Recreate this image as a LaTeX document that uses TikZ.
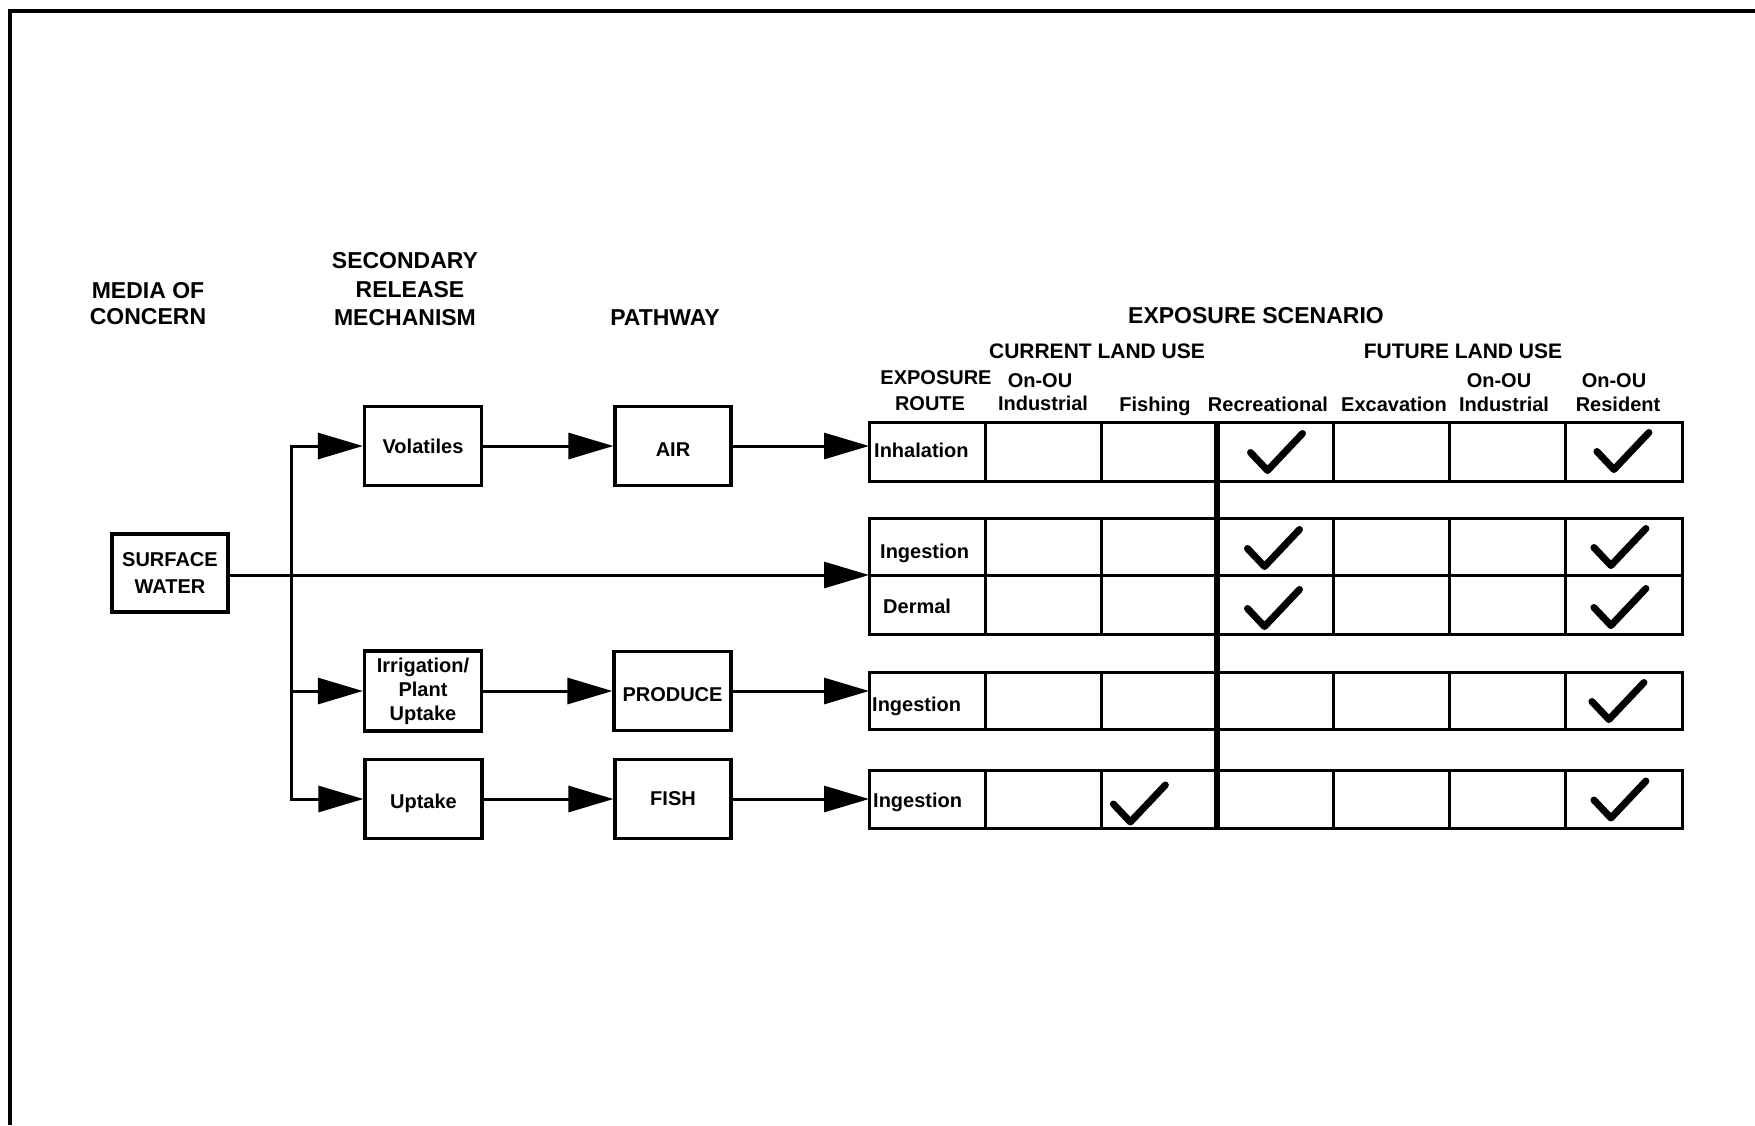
\documentclass[tikz,border=0pt]{standalone}
\usepackage{fontspec}
\setmainfont{Liberation Sans}
\usetikzlibrary{arrows.meta}
\newcommand{\lowertext}[2]{\raisebox{-#1}[\height][\depth]{#2}}
\tikzset{
  box/.style={draw, line width=3.2pt, minimum width=117pt, minimum height=79pt, inner sep=0pt, align=center, font=\fontsize{20}{24}\selectfont\bfseries},
  cell/.style={draw, line width=3pt, minimum width=116.14pt, inner sep=0pt, outer sep=0pt},
  hd/.style={inner sep=0pt, anchor=base, font=\fontsize{23}{26}\selectfont\bfseries},
  subhd/.style={inner sep=0pt, anchor=base, font=\fontsize{21}{24}\selectfont\bfseries},
  colh/.style={inner sep=0pt, anchor=base, font=\fontsize{20}{24}\selectfont\bfseries},
  rt/.style={inner sep=0pt, anchor=base west, font=\fontsize{20}{24}\selectfont\bfseries},
  ln/.style={line width=3pt},
  arr/.style={line width=3pt, -{Triangle[length=45pt,width=26pt]}},
  chk/.pic={\draw[line width=7pt, line cap=round, line join=round] (-25,1) -- (-8,19) -- (27,-18);}
}
\begin{document}
\begin{tikzpicture}[x=1pt,y=-1pt]
\useasboundingbox (0,0) rectangle (1755,1125);
% frame
\draw[line width=3.5pt] (10,1125) -- (10,11) -- (1755,11);

% column headers
\node[hd] (hmed1) at (148,298) {MEDIA OF};
\node[hd] (hmed2) at (148,324) {CONCERN};
\node[hd] (hsec1) at (405,268) {SECONDARY};
\node[hd] (hsec2) at (410,297) {RELEASE};
\node[hd] (hsec3) at (405,325) {MECHANISM};
\node[hd] (hpath) at (665,325) {PATHWAY};
\node[hd] (hexp) at (1256,323) {EXPOSURE SCENARIO};
\node[subhd] (hcur) at (1097,358) {CURRENT LAND USE};
\node[subhd] (hfut) at (1463,358) {FUTURE LAND USE};
\node[colh] (hr1) at (936,384) {EXPOSURE};
\node[colh] (hr2) at (930,410) {ROUTE};
\node[colh] (hci1) at (1040,387) {On-OU};
\node[colh] (hci2) at (1043,410) {Industrial};
\node[colh] (hfi) at (1155,411) {Fishing};
\node[colh] (hre) at (1268,411) {Recreational};
\node[colh] (hex) at (1394,411) {Excavation};
\node[colh] (hfi1) at (1499,387) {On-OU};
\node[colh] (hfi2) at (1504,411) {Industrial};
\node[colh] (hrs1) at (1614,387) {On-OU};
\node[colh] (hrs2) at (1618,411) {Resident};

% boxes
\node[box, minimum width=116pt, minimum height=78pt, font=\fontsize{20}{27}\selectfont\bfseries] (sw) at (170,573) {SURFACE\\WATER};
\node[box] (vol) at (423,446) {Volatiles};
\node[box, minimum width=116pt] (air) at (673,446) {\lowertext{4pt}{AIR}};
\node[box, minimum height=80pt] (irr) at (423,691) {Irrigation/\\Plant\\Uptake};
\node[box] (prod) at (672.5,691) {\lowertext{4pt}{PRODUCE}};
\node[box] (upt) at (423.5,799) {\lowertext{4pt}{Uptake}};
\node[box, minimum width=116pt] (fish) at (673,799) {FISH};

% table cells
\foreach \i in {0,...,6} {
  \node[cell, minimum height=59pt] (c1-\i) at ({927.07+116.14*\i},451.5) {};
  \node[cell, minimum height=57pt] (c2a-\i) at ({927.07+116.14*\i},546.5) {};
  \node[cell, minimum height=59pt] (c2b-\i) at ({927.07+116.14*\i},604.5) {};
  \node[cell, minimum height=57pt] (c3-\i) at ({927.07+116.14*\i},700.5) {};
  \node[cell, minimum height=58pt] (c4-\i) at ({927.07+116.14*\i},799) {};
}
\draw[line width=6pt] (c1-3.north west) -- (c4-3.south west);

% route labels
\node[rt] (t1) at (874,457) {Inhalation};
\node[rt] (t2a) at (880,558) {Ingestion};
\node[rt] (t2b) at (883,613) {Dermal};
\node[rt] (t3) at (872,711) {Ingestion};
\node[rt] (t4) at (873,807) {Ingestion};

% check marks
\pic at (c1-3) {chk};
\pic[shift={(-3,1)}] at (c2a-3) {chk};
\pic[shift={(-3,3)}] at (c2b-3) {chk};
\pic[shift={(-2,-1)}] at (c1-6) {chk};
\pic[shift={(-5,0)}] at (c2a-6) {chk};
\pic[shift={(-5,2)}] at (c2b-6) {chk};
\pic[shift={(-7,0)}] at (c3-6) {chk};
\pic[shift={(-5,0)}] at (c4-6) {chk};
\pic[shift={(-21,4)}] at (c4-2) {chk};

% connectors
\coordinate (bm) at (291,575);
\coordinate (bi) at (291,691);
\draw[arr] (bm) |- (vol.west);
\draw[arr] (bm) |- (upt.west);
\draw[arr] (bi) -- (irr.west);
\draw[arr] (sw.east |- c2a-0.south west) -- (c2a-0.south west);
\draw[arr] (vol.east) -- (air.west);
\draw[arr] (irr.east) -- (prod.west);
\draw[arr] (upt.east) -- (fish.west);
\draw[arr] (air.east) -- (air.east -| c1-0.west);
\draw[arr] (prod.east) -- (prod.east -| c3-0.west);
\draw[arr] (fish.east) -- (fish.east -| c4-0.west);
\end{tikzpicture}
\end{document}
